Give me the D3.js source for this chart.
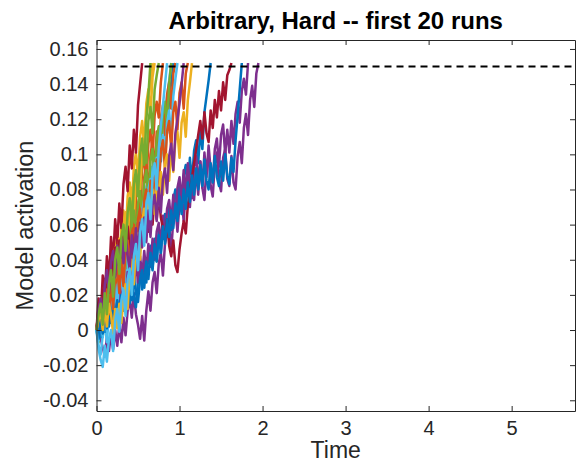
<!DOCTYPE html>
<html>
<head>
<meta charset="utf-8">
<script src="https://cdn.jsdelivr.net/npm/d3@7"></script>
<style>
  body { margin: 0; background: #fff; }
  text { font-family: "Liberation Sans", Arial, Helvetica, sans-serif; }
</style>
</head>
<body>
<svg id="chart" width="576" height="466"></svg>
<script>
// sampling step of the runs (time units) and the decision threshold
const dt = 0.025;
const threshold = 0.15;

const xTicks = [0, 1, 2, 3, 4, 5];
const yTicks = [-0.04, -0.02, 0, 0.02, 0.04, 0.06, 0.08, 0.1, 0.12, 0.14, 0.16];

// matlab default color order, runs cycle through it
const lineColors = ["#0072BD", "#D95319", "#EDB120", "#7E2F8E", "#77AC30", "#4DBEEE", "#A2142F"];

// model activation of each run, in thousandths, one value every dt
const run01 = [0, 8, -4, 3, 14, 4, 17, 6, 22, 29, 15, 24, 35, 26, 40, 49, 33, 47, 60, 50, 44, 62, 74, 59, 80, 87, 72, 93, 84, 103, 110, 96, 118, 126, 112, 133, 141, 152];
const run02 = [0, 10, -1, 14, 20, 8, 25, 33, 19, 37, 28, 44, 52, 37, 57, 46, 63, 71, 55, 77, 86, 70, 91, 99, 84, 106, 114, 99, 122, 130, 121, 141, 152];
const run03 = [0, 9, -2, 16, 24, 11, 31, 39, 25, 46, 53, 38, 60, 68, 52, 76, 84, 69, 93, 101, 86, 110, 119, 104, 129, 137, 122, 144, 152];
const run04 = [0, 6, -5, -10, -15, -4, -12, -2, -11, 0, -9, 3, -7, 7, -3, 11, 18, 7, 21, 9, 3, -5, 8, -6, 11,
  22, 11, 27, 33, 21, 38, 44, 31, 49, 55, 59, 45, 63, 70, 56, 72, 76, 62, 80, 84, 70,
  88, 74, 92, 77, 96, 81, 74, 93, 99, 82, 76, 95, 101, 84, 79, 98, 103, 86, 82, 99, 84,
  80, 99, 107, 95, 115, 123, 111, 131, 139, 127, 146, 152];
const run05 = [0, -7, 5, -4, 10, 18, 6, 24, 32, 18, 38, 46, 31, 52, 60, 45, 67, 76, 61, 84, 92, 77, 101, 109, 94, 119, 127, 112, 137, 145, 152];
const run06 = [0, -9, -14, -3, 5, -7, 9, 16, 3, 20, 27, 13, 31, 38, 24, 43, 50, 35, 55, 62, 47, 67, 75, 59, 80, 88, 72, 93, 101, 86, 108, 116, 101, 124, 133, 142, 152];
const run07 = [0, 18, 6, 31, 19, 42, 28, 53, 39, 63, 49, 72, 58, 83, 93, 79, 105, 92, 114, 101, 128, 140, 152];
const run08 = [0, 5, -4, 8, -1, 11, 2, 14, 4, 17, 7, 20, 9, 23, 12, 27, 15, 30, 19, 13,
  29, 35, 23, 39, 27, 43, 48, 35, 52, 39, 56, 44, 60, 66, 53, 70, 57, 74, 80, 67,
  84, 70, 88, 94, 80, 98, 84, 102, 108, 95, 114, 103, 124, 133, 142, 152];
const run09 = [0, 11, 1, 17, 6, 22, 29, 14, 34, 21, 40, 47, 31, 51, 58, 42, 62, 48, 68, 75, 58, 80, 64, 87, 94, 78, 100, 107, 90, 113, 98, 121, 128, 111, 134, 141, 126, 146, 152];
const run10 = [0, 12, 2, 19, 27, 12, 33, 20, 39, 47, 30, 52, 38, 59, 67, 50, 73, 81, 64, 88, 96, 80, 104, 112, 122, 130, 141, 152];
const run11 = [0, 8, -1, 11, 2, 15, 5, 18, 8, 21, 11, 25, 14, 28, 17, 33, 21, 36, 24, 39,
  27, 42, 30, 45, 33, 49, 36, 52, 40, 56, 61, 48, 65, 52, 69, 74, 60, 77, 64, 81,
  87, 73, 91, 77, 95, 82, 75, 93, 99, 83, 96, 81, 101, 87, 105, 91, 84, 103, 109, 93,
  111, 117, 100, 114, 101, 119, 106, 123, 130, 118, 136, 143, 134, 152];
const run12 = [0, 8, 13, 2, 18, 5, 22, 29, 13, 33, 40, 25, 44, 51, 35, 55, 40, 61, 68, 52, 72, 79, 63, 84, 91, 75, 96, 103, 87, 109, 116, 99, 123, 130, 115, 140, 152];
const run13 = [0, -6, 6, -4, 11, -1, 15, 21, 7, 26, 12, 31, 37, 21, 41, 46, 30, 51, 57, 41, 62, 47, 68, 74, 58, 80, 86, 70, 92, 98, 82, 104, 111, 95, 118, 125, 108, 133, 143, 152];
const run14 = [0, 13, 3, 21, 29, 17, 36, 43, 31, 47, 35, 51, 39, 55, 43, 59, 46, 41, 57, 45,
  61, 49, 65, 53, 69, 56, 73, 60, 75, 63, 77, 64, 58, 52, 63, 48, 42, 51, 37, 33,
  46, 55, 62, 55, 71, 79, 87, 95, 103, 111, 119, 109, 124, 112, 107, 125, 115, 131,
  121, 136, 125, 141, 131, 145, 148, 152];
const run15 = [0, -5, 6, -2, 9, 1, 12, 4, 15, 6, 17, 8, 20, 11, 23, 14, 27, 17, 30, 21,
  16, 29, 34, 24, 39, 29, 44, 34, 49, 39, 54, 44, 59, 49, 63, 53, 68, 58, 72, 62,
  76, 66, 80, 69, 84, 73, 88, 77, 92, 80, 94, 82, 97, 85, 80, 95, 84, 99, 87, 82,
  96, 85, 100, 88, 83, 98, 90, 108, 122, 137, 152];
const run16 = [0, 7, 13, 1, 16, 23, 9, 27, 12, 31, 36, 21, 40, 25, 45, 51, 35, 55, 60, 43, 63, 69, 53, 74, 80, 64, 85, 70, 91, 97, 81, 102, 108, 92, 113, 119, 103, 124, 130, 114, 135, 141, 126, 146, 152];
const run17 = [0, 6, 11, 0, 13, 2, 15, 9, -2, 12, 1, 15, 4, 18, 26, 12, 33, 40, 26, 47,
  55, 40, 62, 69, 54, 75, 61, 80, 66, 85, 71, 90, 77, 95, 100, 85, 104, 90, 108, 113,
  98, 118, 124, 110, 131, 141, 152];
const run18 = [0, 12, 18, 6, 26, 34, 21, 39, 45, 30, 48, 35, 52, 38, 56, 42, 35, 54, 40, 58,
  44, 61, 47, 64, 50, 68, 53, 71, 77, 62, 81, 67, 86, 92, 78, 99, 106, 91, 112, 120, 129, 140, 152];
const run19 = [0, 9, 15, 3, 21, 9, 26, 34, 19, 40, 47, 32, 53, 60, 45, 67, 75, 59, 83, 91, 76, 100, 109, 94, 120, 134, 152];
const run20 = [0, -11, -17, -21, -9, -18, -5, 0, -12, 5, 12, -1, 17, 23, 8, 29, 35, 20, 42, 49, 34, 56, 63, 48, 71, 78, 63, 87, 95, 80, 104, 116, 128, 140, 152];

const runs = [run01, run02, run03, run04, run05, run06, run07, run08, run09, run10,
  run11, run12, run13, run14, run15, run16, run17, run18, run19, run20];

const svg = d3.select("#chart");

const x = d3.scaleLinear().domain([0, 5.763]).range([96.5, 575]);
const y = d3.scaleLinear().domain([-0.0461, 0.1651]).range([411, 40]);

const axisColor = "#262626";
const fmt = (d) => String(+d.toFixed(2));

// traces, drawn in run order so later runs sit on top
const line = d3.line()
  .x((d, i) => x(i * dt))
  .y((d) => y(d / 1000));

svg.append("g")
  .selectAll("path")
  .data(runs)
  .enter()
  .append("path")
  .attr("d", line)
  .attr("fill", "none")
  .attr("stroke", (d, i) => lineColors[i % lineColors.length])
  .attr("stroke-width", 2.5)
  .attr("stroke-linejoin", "round");

// threshold
svg.append("line")
  .attr("x1", x(0))
  .attr("x2", x.range()[1])
  .attr("y1", y(threshold))
  .attr("y2", y(threshold))
  .attr("stroke", "#000")
  .attr("stroke-width", 2)
  .attr("stroke-dasharray", "7,5");

// axes, matlab style box with inward ticks
const axisBottomG = svg.append("g")
  .attr("transform", `translate(0,${y.range()[0]})`)
  .call(d3.axisBottom(x).tickValues(xTicks).tickSizeInner(-5).tickSizeOuter(0).tickPadding(10).tickFormat(fmt));
const axisTopG = svg.append("g")
  .attr("transform", `translate(0,${y.range()[1]})`)
  .call(d3.axisTop(x).tickValues(xTicks).tickSizeInner(-5).tickSizeOuter(0).tickFormat(""));
const axisLeftG = svg.append("g")
  .attr("transform", `translate(${x.range()[0]},0)`)
  .call(d3.axisLeft(y).tickValues(yTicks).tickSizeInner(-5).tickSizeOuter(0).tickPadding(8).tickFormat(fmt));
const axisRightG = svg.append("g")
  .attr("transform", `translate(${x.range()[1]},0)`)
  .call(d3.axisRight(y).tickValues(yTicks).tickSizeInner(-5).tickSizeOuter(0).tickFormat(""));

[axisBottomG, axisTopG, axisLeftG, axisRightG].forEach((g) => {
  g.select(".domain").attr("stroke", axisColor);
  g.selectAll(".tick line").attr("stroke", axisColor);
  g.selectAll(".tick text")
    .attr("fill", axisColor)
    .style("font-size", "20px")
    .style("font-family", '"Liberation Sans", Arial, sans-serif');
});

svg.append("text")
  .attr("x", (x.range()[0] + x.range()[1]) / 2)
  .attr("y", 29)
  .attr("text-anchor", "middle")
  .attr("fill", "#000")
  .style("font-size", "24px")
  .style("font-weight", "bold")
  .text("Arbitrary, Hard -- first 20 runs");

svg.append("text")
  .attr("x", (x.range()[0] + x.range()[1]) / 2)
  .attr("y", 458)
  .attr("text-anchor", "middle")
  .attr("fill", axisColor)
  .style("font-size", "23px")
  .text("Time");

svg.append("text")
  .attr("transform", `translate(33,${(y.range()[0] + y.range()[1]) / 2}) rotate(-90)`)
  .attr("text-anchor", "middle")
  .attr("fill", axisColor)
  .style("font-size", "23.5px")
  .text("Model activation");
</script>
</body>
</html>
